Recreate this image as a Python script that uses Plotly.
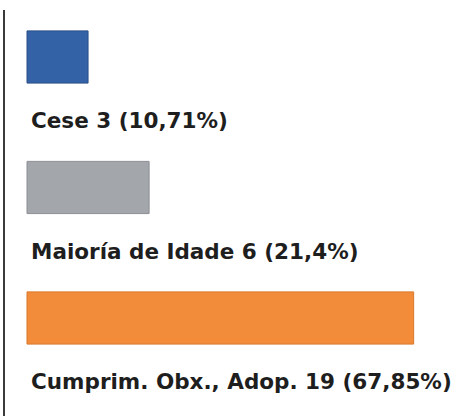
import plotly.graph_objects as go

categories = ["Cese", "Maioría de Idade", "Cumprim. Obx., Adop."]
values = [3, 6, 19]
percent_labels = ["10,71%", "21,4%", "67,85%"]
colors = ["#3462A6", "#A3A6AB", "#F28C3B"]
edge_colors = ["#2A4F88", "#8C8F94", "#D9772C"]

positions = list(range(len(categories)))

fig = go.Figure()
fig.add_trace(go.Bar(
    x=values,
    y=positions,
    orientation="h",
    width=0.4,
    marker=dict(color=colors, line=dict(color=edge_colors, width=1)),
    hoverinfo="skip",
))

px_per_unit = 20.35
plot_w = 454 - 5
x_min = -22 / px_per_unit
x_max = x_min + plot_w / px_per_unit

for pos, cat, val, pct in zip(positions, categories, values, percent_labels):
    fig.add_annotation(
        x=0.1, y=pos + 0.49, xref="x", yref="y",
        text=f"<b>{cat} {val} ({pct})</b>",
        showarrow=False, xanchor="left", yanchor="middle",
        font=dict(family="DejaVu Sans", size=21.5, color="#1e1e1e"),
    )

fig.update_layout(
    width=454, height=416,
    margin=dict(l=5, r=0, t=10, b=0),
    paper_bgcolor="white", plot_bgcolor="white",
    showlegend=False,
    xaxis=dict(range=[x_min, x_max], visible=False, showgrid=False, zeroline=False),
    yaxis=dict(range=[2.751, -0.360], showgrid=False, zeroline=False,
               showticklabels=False, ticks="", showline=True,
               linecolor="#3a3a3a", linewidth=2),
)

fig.write_html(
    "out.html",
    config={"displayModeBar": False},
    post_script="document.body.style.margin='0';document.body.style.overflow='hidden';",
)
